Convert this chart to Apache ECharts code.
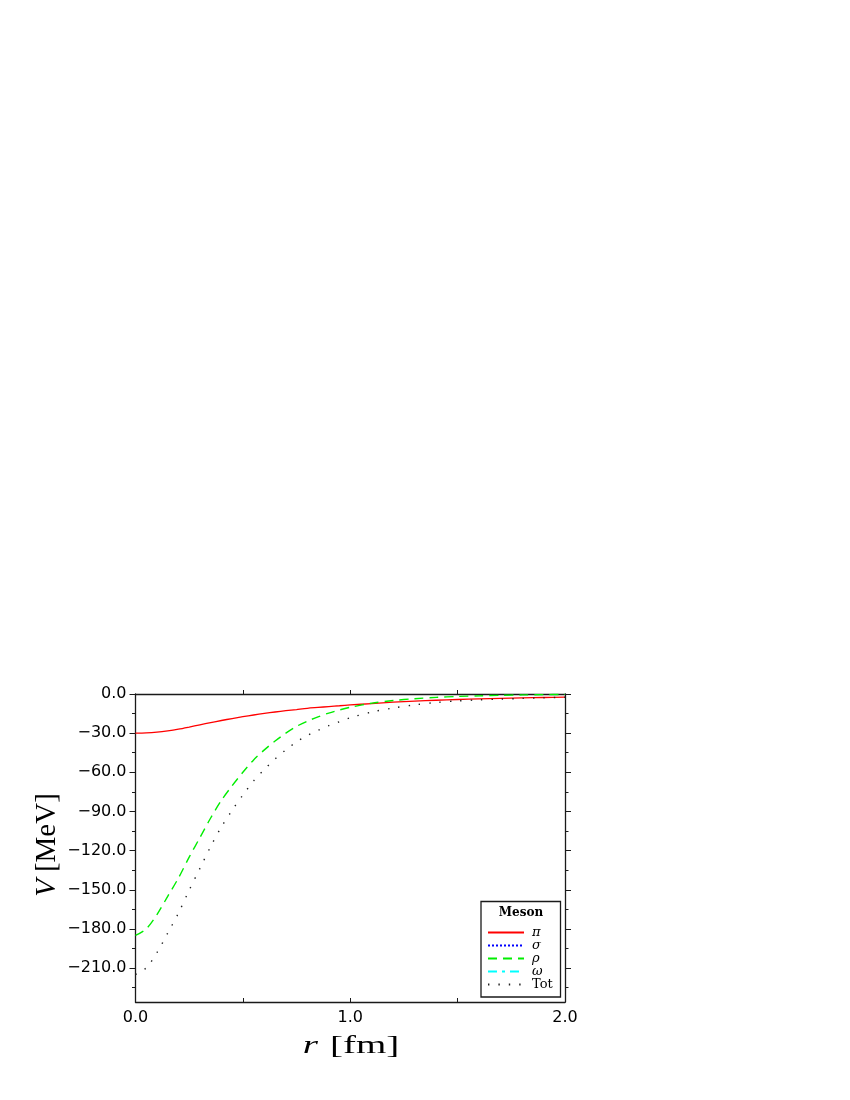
<!DOCTYPE html>
<html>
<head>
<meta charset="utf-8">
<script src="https://cdn.jsdelivr.net/npm/echarts@6/dist/echarts.min.js"></script>
<style>
html,body{margin:0;padding:0;background:#fff;}
#chart{width:850px;height:1100px;}
</style>
</head>
<body>
<div id="chart"></div>
<script>
// radius grid [fm]
var rValues = [0,0.05,0.1,0.15,0.2,0.25,0.3,0.35,0.4,0.45,0.5,0.55,0.6,0.65,0.7,0.75,0.8,0.85,0.9,0.95,1.0,1.1,1.2,1.3,1.4,1.5,1.6,1.7,1.8,1.9,2.0];
// potentials [MeV]
var piValues  = [-30.0,-29.8,-29.2,-28.2,-26.9,-25.3,-23.6,-21.9,-20.3,-18.8,-17.4,-16.1,-14.9,-13.8,-12.8,-11.9,-11.0,-10.3,-9.6,-9.0,-8.4,-7.3,-6.3,-5.5,-4.8,-4.2,-3.8,-3.4,-3.0,-2.7,-2.4];
var rhoValues = [-185.0,-180.0,-169.0,-155.0,-141.0,-125.0,-110.0,-95.0,-81.5,-70.3,-60.0,-50.5,-42.8,-36.0,-30.0,-24.8,-20.8,-17.5,-14.6,-12.2,-10.2,-7.0,-5.0,-3.6,-2.6,-1.9,-1.4,-1.0,-0.7,-0.5,-0.3];
var totValues = [-215.0,-209.8,-198.2,-183.2,-167.9,-150.3,-133.6,-116.9,-101.8,-89.1,-77.4,-66.6,-57.7,-49.8,-42.8,-36.7,-31.8,-27.8,-24.2,-21.2,-18.2,-13.8,-10.7,-8.3,-6.5,-5.3,-4.5,-3.9,-3.4,-2.9,-2.5];
var sigmaValues = [];
var omegaValues = [];
// axis ticks
var xMajorTicks = [0,1,2];
var xMinorTicks = [0.5,1,1.5];
var yLabelTicks = [0,-30,-60,-90,-120,-150,-180,-210];
var yMinorTicks = [-15,-45,-75,-105,-135,-165,-195,-225];
var legendNames = ['π','σ','ρ','ω','Tot'];

function pairs(xs, ys){ return ys.map(function(v,i){ return [xs[i], v]; }); }
function fmt(v){ var s = Math.abs(v).toFixed(1); return (v < 0 ? '\u2212' : '') + s; }

var axisColor = '#1a1a1a';
var chart = echarts.init(document.getElementById('chart'), null, {renderer:'canvas'});

function xAxisDef(pos, ticks, inside, showLabel){
  return {
    type:'value', position:pos, min:0, max:2,
    axisLine:{show:true, onZero:false, lineStyle:{color:axisColor, width:1.3}},
    axisTick:{show:true, inside:inside, length:4, customValues:ticks, lineStyle:{color:axisColor, width:1}},
    axisLabel:{show:showLabel, customValues:xMajorTicks, formatter:function(v){return fmt(v);},
      color:'#000', fontFamily:'DejaVu Sans', fontSize:16, margin:8},
    splitLine:{show:false}
  };
}
function yAxisDef(pos, ticks, len, showLabel, showLine){
  return {
    type:'value', position:pos, min:-236, max:0,
    axisLine:{show:showLine, onZero:false, lineStyle:{color:axisColor, width:1.3}},
    axisTick:{show:true, inside:false, length:len, customValues:ticks, lineStyle:{color:axisColor, width:1}},
    axisLabel:{show:showLabel, customValues:yLabelTicks, formatter:function(v){return fmt(v);},
      color:'#000', fontFamily:'DejaVu Sans', fontSize:16, margin:9},
    splitLine:{show:false}
  };
}

var option = {
  animation:false,
  backgroundColor:'#fff',
  grid:{left:135.5, top:694, width:429.5, height:308, containLabel:false},
  xAxis:[
    xAxisDef('bottom', xMinorTicks, true, true),
    xAxisDef('top', xMinorTicks, false, false)
  ],
  yAxis:[
    yAxisDef('left', yLabelTicks, 6, true, true),
    yAxisDef('left', yMinorTicks, 3.5, false, false),
    yAxisDef('right', yLabelTicks, 6, false, true),
    yAxisDef('right', yMinorTicks, 3.5, false, false)
  ],
  legend:{
    orient:'vertical', left:482, top:921,
    itemWidth:36, itemHeight:10, itemGap:0,
    data:legendNames, z:10,
    icon:'inherit',
    itemStyle:{opacity:0},
    formatter:function(n){ return n === 'Tot' ? '{n|Tot}' : '{i|' + n + '}'; },
    textStyle:{color:'#000', lineHeight:11,
      rich:{
        i:{fontFamily:'DejaVu Serif', fontStyle:'italic', fontSize:13, lineHeight:11, color:'#000', padding:[0,0,0,3]},
        n:{fontFamily:'DejaVu Serif', fontSize:13, lineHeight:11, color:'#000', padding:[0,0,0,3]}
      }}
  },
  graphic:[
    {type:'rect', z:5, shape:{x:481, y:901.5, width:79.5, height:95.5},
      style:{fill:'#fff', stroke:'#1a1a1a', lineWidth:1.3}},
    {type:'text', z:11, x:521, y:913,
      style:{text:'Meson', fontFamily:'DejaVu Serif', fontWeight:'bold', fontSize:12,
        fill:'#000', textAlign:'center', textVerticalAlign:'middle'}},
    {type:'text', z:11, x:351, y:1046, scaleX:1.5,
      style:{text:'{i|r}{s| }{n|[fm]}', textAlign:'center', textVerticalAlign:'middle', fill:'#000',
        rich:{i:{fontFamily:'Liberation Serif', fontStyle:'italic', fontSize:26, fill:'#000'},
              s:{fontFamily:'Liberation Serif', fontSize:26, width:8},
              n:{fontFamily:'Liberation Serif', fontSize:26, fill:'#000'}}}},
    {type:'text', z:11, x:47, y:845, rotation:Math.PI/2,
      style:{text:'{i|V}{s| }{n|[MeV]}', textAlign:'center', textVerticalAlign:'middle', fill:'#000',
        rich:{i:{fontFamily:'Liberation Serif', fontStyle:'italic', fontSize:29, fill:'#000'},
              s:{fontFamily:'Liberation Serif', fontSize:29, width:7},
              n:{fontFamily:'Liberation Serif', fontSize:29, fill:'#000'}}}}
  ],
  series:[
    {name:'π', type:'line', xAxisIndex:0, yAxisIndex:0, data:pairs(rValues, piValues),
      symbol:'none', showSymbol:false, smooth:0.3, color:'#ff0000',
      lineStyle:{color:'#ff0000', width:1.3, type:'solid'}},
    {name:'σ', type:'line', xAxisIndex:0, yAxisIndex:0, data:pairs(rValues, sigmaValues),
      symbol:'none', showSymbol:false, smooth:0.3, color:'#0000ff',
      lineStyle:{color:'#0000ff', width:1.3, type:[2,2]}},
    {name:'ρ', type:'line', xAxisIndex:0, yAxisIndex:0, data:pairs(rValues, rhoValues),
      symbol:'none', showSymbol:false, smooth:0.3, color:'#00ff00',
      lineStyle:{color:'#00ee00', width:1.4, type:[9,6]}},
    {name:'ω', type:'line', xAxisIndex:0, yAxisIndex:0, data:pairs(rValues, omegaValues),
      symbol:'none', showSymbol:false, smooth:0.3, color:'#00ffff',
      lineStyle:{color:'#00ffff', width:1.4, type:[9,5,3,5]}},
    {name:'Tot', type:'line', xAxisIndex:0, yAxisIndex:0, data:pairs(rValues, totValues),
      symbol:'none', showSymbol:false, smooth:0.3, color:'#000000',
      lineStyle:{color:'#222', width:1.4, type:[1.4,9]}}
  ]
};
chart.setOption(option);
</script>
</body>
</html>
